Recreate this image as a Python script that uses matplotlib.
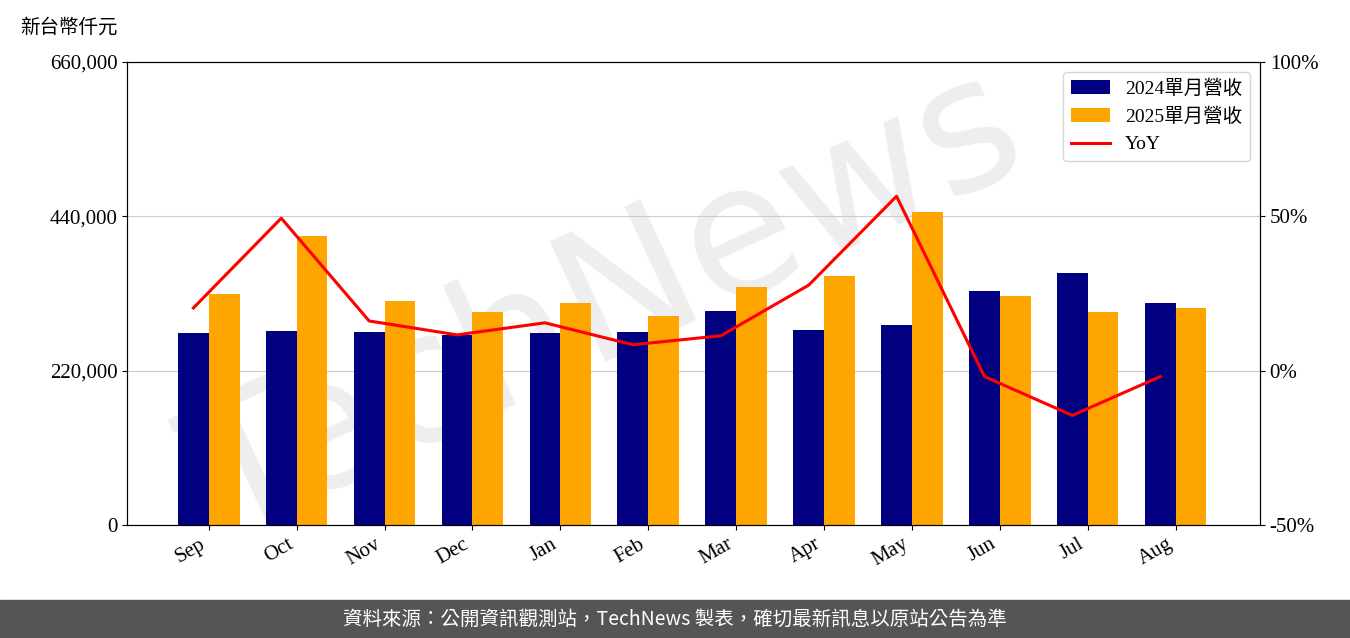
import matplotlib
matplotlib.use("Agg")
import matplotlib.pyplot as plt
import numpy as np

plt.rcParams['font.family'] = ['Liberation Serif', 'Noto Sans CJK TC', 'DejaVu Sans']

months = ["Sep","Oct","Nov","Dec","Jan","Feb","Mar","Apr","May","Jun","Jul","Aug"]
rev2024 = [273700,276500,275100,270800,273700,275100,305000,278000,285100,333600,359200,316500]
rev2025 = [329300,412000,319300,303600,316500,297900,339300,355000,446200,326400,303600,309300]
yoy = [20.3,49.4,16.1,11.6,15.5,8.4,11.3,27.7,56.5,-1.9,-14.5,-1.9]

fig = plt.figure(figsize=(13.5,6.38), dpi=100)
ax = fig.add_axes([127/1350, 1-525/638, (1260-127)/1350, (525-62)/638])
ax.patch.set_visible(False)
x = np.arange(len(months))
w = 0.35
b1 = ax.bar(x-w/2, rev2024, w, color='#000080', zorder=2)
b2 = ax.bar(x+w/2, rev2025, w, color='#FFA500', zorder=2)
ax.set_ylim(0, 660000)
ax.set_yticks([0,220000,440000,660000])
ax.set_yticklabels(['0','220,000','440,000','660,000'], fontsize=15)
ax.yaxis.grid(True, color='#cccccc', zorder=0)
ax.set_xlim(-0.93, 11.96)
ax.set_xticks(x)
ax.set_xticklabels(months, rotation=30, ha='right', fontsize=15)
ax2 = ax.twinx()
l, = ax2.plot(x-w/2, yoy, color='red', lw=2.2)
ax2.set_ylim(-50, 100)
ax2.set_yticks([-50,0,50,100])
ax2.set_yticklabels(['-50%','0%','50%','100%'], fontsize=15)
ax2.legend([b1,b2,l], ['2024單月營收','2025單月營收','YoY'], loc='upper right',
           prop={'family':['Liberation Serif','Noto Sans CJK TC'], 'size':14})
fig.text(20/1350, 1-27/638, '新台幣仟元', fontsize=14, family=['Noto Sans CJK TC'], va='center')
fig.text(0.45, 0.52, 'TechNews', fontsize=130, rotation=25, color='#dddddd', alpha=0.5,
         ha='center', va='center', family='DejaVu Sans', zorder=-1)
fig.patches.append(matplotlib.patches.Rectangle((0,0),1,38/638, transform=fig.transFigure, color='#555555'))
fig.text(0.5, 19/638, '資料來源：公開資訊觀測站，TechNews 製表，確切最新訊息以原站公告為準', color='white',
         fontsize=14, ha='center', va='center', family=['Noto Sans CJK TC'])
fig.savefig('out.png', dpi=100)
